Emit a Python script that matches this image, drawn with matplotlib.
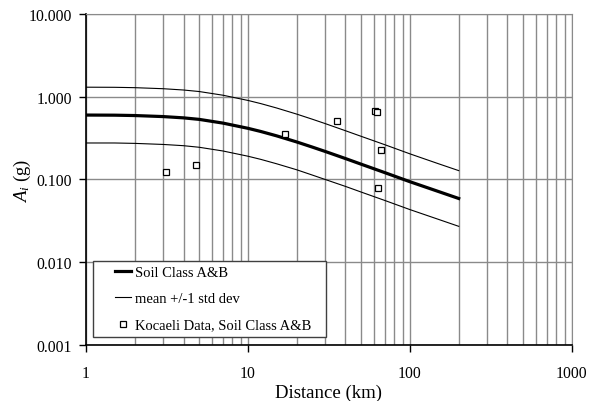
import matplotlib
matplotlib.use("Agg")
import matplotlib.pyplot as plt
from matplotlib.legend_handler import HandlerLine2D
from matplotlib.ticker import LogLocator, FixedLocator, NullFormatter

plt.rcParams['font.family'] = ['Liberation Serif', 'DejaVu Serif']
plt.rcParams['mathtext.fontset'] = 'custom'
plt.rcParams['mathtext.rm'] = 'Liberation Serif'
plt.rcParams['mathtext.it'] = 'Liberation Serif:italic'

# --- attenuation curve (soil class A&B) ---
distance = [1, 1.5, 2, 3, 4, 5, 7, 10, 12, 15, 20, 25, 30, 40, 50, 70, 100, 150, 200]
mean_a = [0.600, 0.598, 0.592, 0.575, 0.555, 0.532, 0.480, 0.415, 0.380, 0.337,
          0.284, 0.246, 0.218, 0.179, 0.153, 0.121, 0.094, 0.0716, 0.059]
upper_a = [1.302, 1.298, 1.285, 1.248, 1.204, 1.154, 1.042, 0.901, 0.825, 0.731,
           0.616, 0.534, 0.473, 0.388, 0.332, 0.263, 0.204, 0.155, 0.128]
lower_a = [0.276, 0.276, 0.273, 0.265, 0.256, 0.245, 0.221, 0.191, 0.175, 0.155,
           0.131, 0.113, 0.100, 0.0825, 0.0705, 0.0558, 0.0433, 0.033, 0.0272]

# --- Kocaeli records ---
koc_dist = [3.1, 4.8, 16.9, 35.4, 60.5, 62.5, 66.2, 63.4]
koc_acc = [0.124, 0.151, 0.355, 0.508, 0.666, 0.66, 0.227, 0.079]


class RightHandle(HandlerLine2D):
    # draw the legend handle only in the right part of the handle box
    def create_artists(self, legend, orig_handle, xdescent, ydescent, width, height, fontsize, trans):
        seg = 1.1 * fontsize
        return super().create_artists(legend, orig_handle, xdescent - (width - seg), ydescent,
                                      seg, height, fontsize, trans)


fig = plt.figure(figsize=(5.89, 4.02), dpi=100)
ax = fig.add_axes([0.146, 0.139, 0.825, 0.824])

ax.plot(distance, mean_a, color='black', lw=2.3, label='Soil Class A&B', zorder=3)
ax.plot(distance, upper_a, color='black', lw=0.8, label='mean +/-1 std dev', zorder=3)
ax.plot(distance, lower_a, color='black', lw=0.8, zorder=3)
ax.plot(koc_dist, koc_acc, ls='none', marker='s', ms=4.6, mfc='white', mec='black',
        mew=0.9, label='Kocaeli Data, Soil Class A&B', zorder=4)

ax.set_xscale('log')
ax.set_yscale('log')
ax.set_xlim(1, 1000)
ax.set_ylim(0.001, 10)

ax.xaxis.set_major_locator(FixedLocator([1, 10, 100, 1000]))
ax.xaxis.set_minor_locator(LogLocator(base=10, subs=range(2, 10)))
ax.xaxis.set_minor_formatter(NullFormatter())
ax.set_xticklabels(['1', '10', '100', '1000'])
ax.yaxis.set_major_locator(FixedLocator([0.001, 0.01, 0.1, 1, 10]))
ax.yaxis.set_minor_locator(FixedLocator([]))
ax.set_yticklabels(['0.001', '0.010', '0.100', '1.000', '10.000'])

ax.grid(True, which='major', color='#8a8a8a', lw=1.0)
ax.grid(True, which='minor', axis='x', color='#8a8a8a', lw=1.0)
ax.set_axisbelow(True)

ax.tick_params(axis='x', which='major', direction='out', length=5, width=1, pad=9.5, labelsize=11.3)
ax.tick_params(axis='y', which='major', direction='out', length=5, width=1, pad=5, labelsize=11.3)
ax.tick_params(which='minor', length=0)

for side in ['top', 'right']:
    ax.spines[side].set_color('#8a8a8a')
for side in ['left', 'bottom']:
    ax.spines[side].set_color('black')
    ax.spines[side].set_linewidth(1.2)

ax.set_xlabel('Distance (km)', fontsize=13.5, labelpad=2)
ax.set_ylabel('$A_i$ (g)', fontsize=13.5, labelpad=-3)

leg = ax.legend(loc='lower left', bbox_to_anchor=(0.0144, 0.024, 0.479, 0.23),
                mode='expand', borderaxespad=0,
                fontsize=10.5, frameon=True, fancybox=False, framealpha=1,
                edgecolor='#404040', handlelength=2.2, handletextpad=0.3,
                labelspacing=0.89, borderpad=0.38, markerscale=0.9,
                handler_map={plt.Line2D: RightHandle()})
leg.get_frame().set_linewidth(1.0)

fig.savefig('out.png', dpi=100)
